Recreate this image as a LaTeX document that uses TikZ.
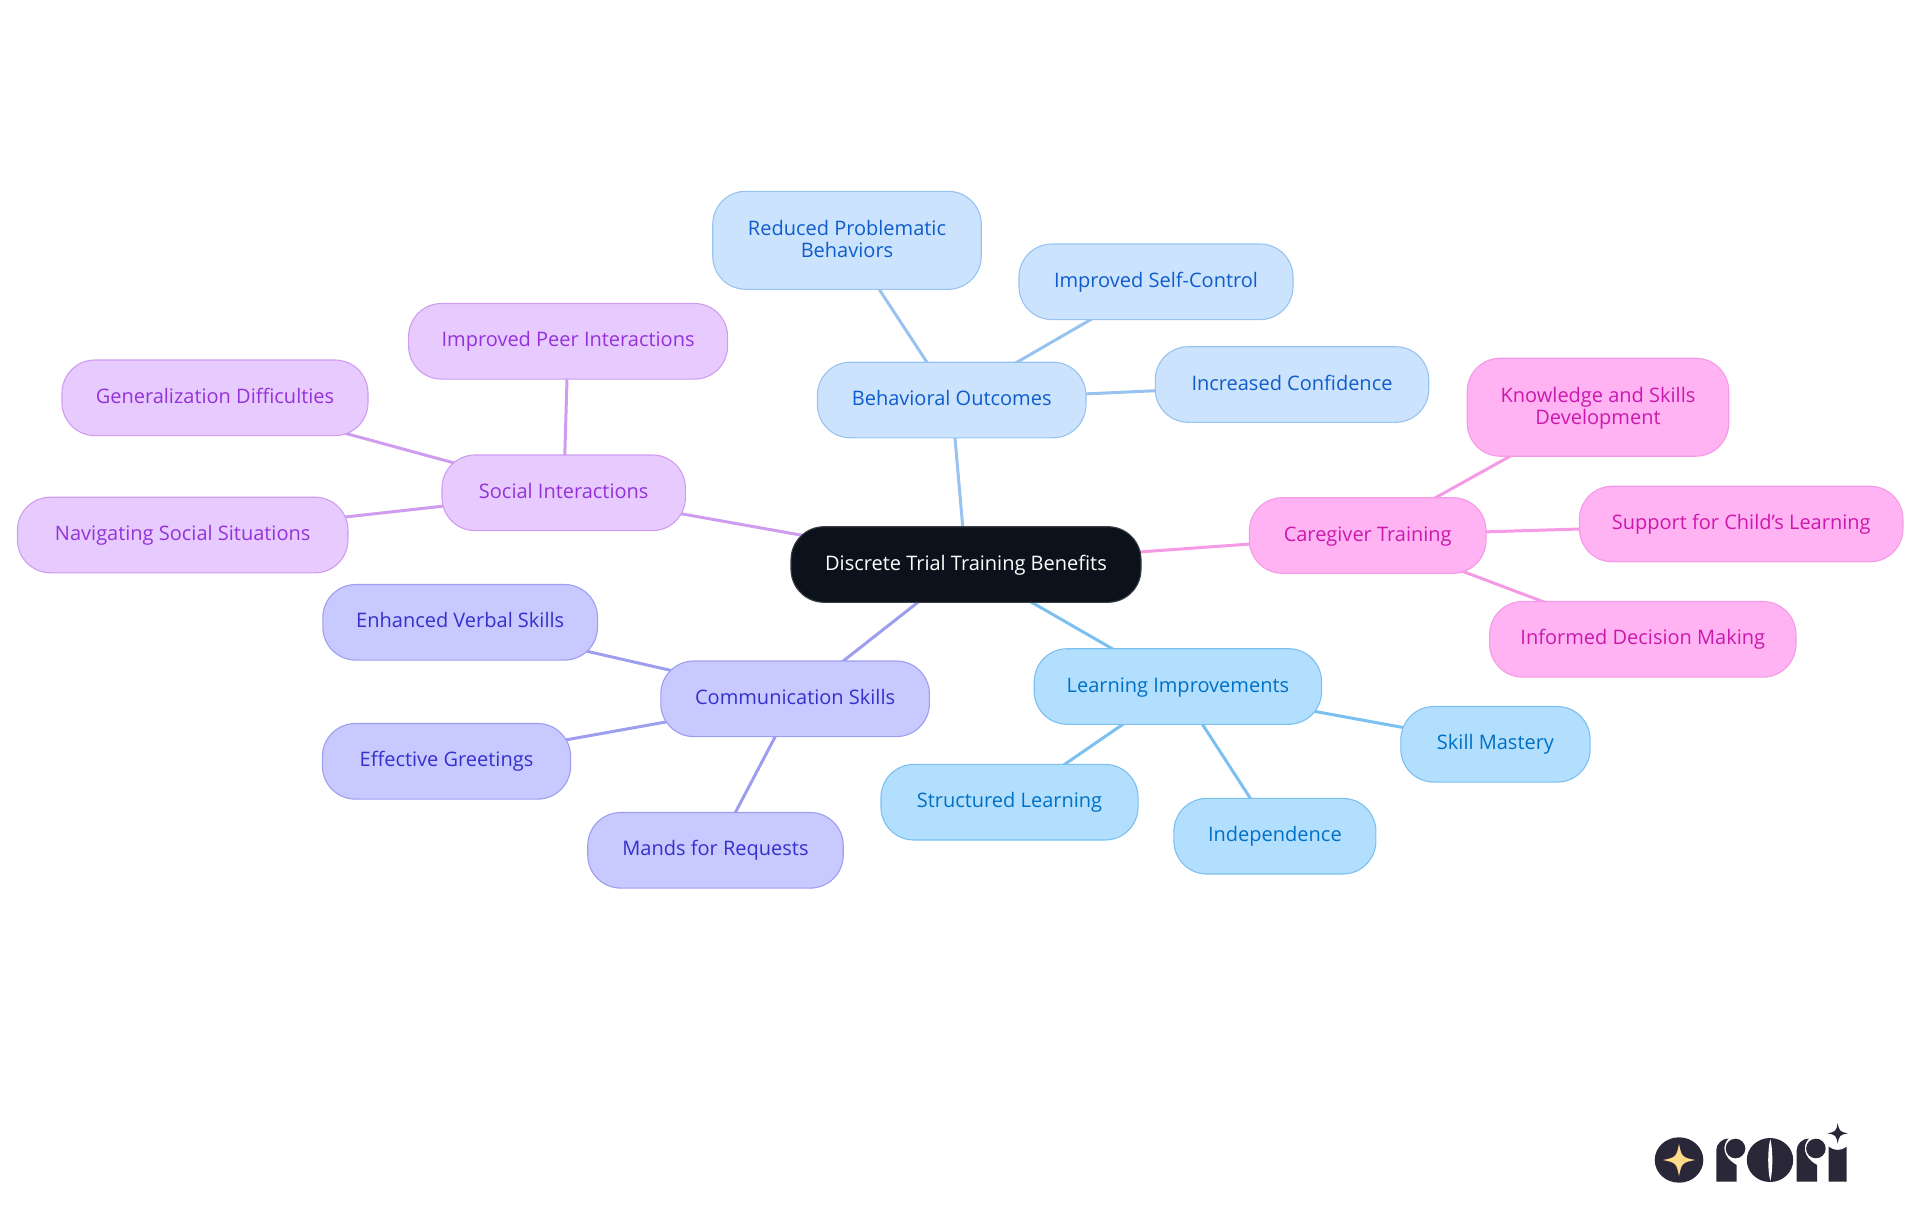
\documentclass[tikz,border=0pt]{standalone}
\usepackage{fontspec}
\setmainfont{Open Sans}
\usetikzlibrary{backgrounds}

\definecolor{rootfill}{HTML}{0C121B}
\definecolor{rootline}{HTML}{3A3E44}
\definecolor{behavfill}{HTML}{CCE3FD}
\definecolor{behavline}{HTML}{98C3F0}
\definecolor{behavtext}{HTML}{0F5CCB}
\definecolor{learnfill}{HTML}{B3DFFF}
\definecolor{learnline}{HTML}{7CC0F0}
\definecolor{learntext}{HTML}{0070C4}
\definecolor{carefill}{HTML}{FFB3F3}
\definecolor{careline}{HTML}{F59AE5}
\definecolor{caretext}{HTML}{CC18AD}
\definecolor{commfill}{HTML}{C8C9FE}
\definecolor{commline}{HTML}{9E9EF0}
\definecolor{commtext}{HTML}{3530CC}
\definecolor{socialfill}{HTML}{E8CBFE}
\definecolor{socialline}{HTML}{CF9CF0}
\definecolor{socialtext}{HTML}{9332DA}
\definecolor{logodark}{HTML}{292738}
\definecolor{logostar}{HTML}{FFD98C}

\tikzset{
	topic/.style={rectangle, rounded corners=33pt, inner sep=0pt, line width=1.1pt,
		minimum height=75.6pt, align=center, text height=16pt, text depth=5pt,
		font=\fontsize{20}{22.4}\selectfont},
	twolines/.style={minimum height=98pt, text height=39.5pt, text depth=5pt},
	rootbox/.style={topic, fill=rootfill, draw=rootline, text=white},
	behavbox/.style={topic, fill=behavfill, draw=behavline, text=behavtext},
	learnbox/.style={topic, fill=learnfill, draw=learnline, text=learntext},
	carebox/.style={topic, fill=carefill, draw=careline, text=caretext},
	commbox/.style={topic, fill=commfill, draw=commline, text=commtext},
	socialbox/.style={topic, fill=socialfill, draw=socialline, text=socialtext},
	link/.style={line width=3pt}
}

\newcommand{\sparkle}[4]{%
	\fill [#4] (#1-#3,#2) .. controls (#1-0.2*#3,#2-0.15*#3) and (#1-0.15*#3,#2-0.2*#3) .. (#1,#2-#3)
	.. controls (#1+0.15*#3,#2-0.2*#3) and (#1+0.2*#3,#2-0.15*#3) .. (#1+#3,#2)
	.. controls (#1+0.2*#3,#2+0.15*#3) and (#1+0.15*#3,#2+0.2*#3) .. (#1,#2+#3)
	.. controls (#1-0.15*#3,#2+0.2*#3) and (#1-0.2*#3,#2+0.15*#3) .. (#1-#3,#2) -- cycle;}

\begin{document}
\begin{tikzpicture}[x=1pt, y=-1pt]
	\useasboundingbox (0,0) rectangle (1920,1215);

	\node [rootbox, minimum width=350] (root) at (966,564.5) {Discrete Trial Training Benefits};

	\node [behavbox, minimum width=268.5] (behav) at (951.7,400) {Behavioral Outcomes};
	\node [behavbox, twolines, minimum width=268.5] (reduced) at (847,240.3) {Reduced Problematic\\Behaviors};
	\node [behavbox, minimum width=274] (selfctl) at (1156,281.8) {Improved Self-Control};
	\node [behavbox, minimum width=273.4] (confid) at (1292,384.5) {Increased Confidence};

	\node [carebox, minimum width=236.6] (care) at (1367.7,535.5) {Caregiver Training};
	\node [carebox, twolines, minimum width=261.5] (knowl) at (1598,407.2) {Knowledge and Skills\\Development};
	\node [carebox, minimum width=323.5] (support) at (1741.2,524) {Support for Child's Learning};
	\node [carebox, minimum width=306.3] (inform) at (1642.8,639.3) {Informed Decision Making};

	\node [learnbox, minimum width=287.4] (learn) at (1177.9,686.5) {Learning Improvements};
	\node [learnbox, minimum width=189.3] (mastery) at (1495.5,744.3) {Skill Mastery};
	\node [learnbox, minimum width=202] (indep) at (1274.9,836.2) {Independence};
	\node [learnbox, minimum width=257.1] (struct) at (1009.5,802.2) {Structured Learning};

	\node [commbox, minimum width=268.6] (comm) at (795.1,698.8) {Communication Skills};
	\node [commbox, minimum width=274.7] (verbal) at (460.2,622.3) {Enhanced Verbal Skills};
	\node [commbox, minimum width=248.2] (greet) at (446.5,761.3) {Effective Greetings};
	\node [commbox, minimum width=255.5] (mands) at (715.5,850.3) {Mands for Requests};

	\node [socialbox, minimum width=243.4] (social) at (563.7,492.8) {Social Interactions};
	\node [socialbox, minimum width=319] (peer) at (568.1,341.3) {Improved Peer Interactions};
	\node [socialbox, minimum width=306] (general) at (215,397.8) {Generalization Difficulties};
	\node [socialbox, minimum width=330.5] (navig) at (182.7,535) {Navigating Social Situations};

	\begin{scope}[on background layer]
		\path [-, link, draw=behavline]
		(root.center) edge (behav.center)
		(behav.center) edge (reduced.center)
		(behav.center) edge (selfctl.center)
		(behav.center) edge (confid.center);
		\path [-, link, draw=careline]
		(root.center) edge (care.center)
		(care.center) edge (knowl.center)
		(care.center) edge (support.center)
		(care.center) edge (inform.center);
		\path [-, link, draw=learnline]
		(root.center) edge (learn.center)
		(learn.center) edge (mastery.center)
		(learn.center) edge (indep.center)
		(learn.center) edge (struct.center);
		\path [-, link, draw=commline]
		(root.center) edge (comm.center)
		(comm.center) edge (verbal.center)
		(comm.center) edge (greet.center)
		(comm.center) edge (mands.center);
		\path [-, link, draw=socialline]
		(root.center) edge (social.center)
		(social.center) edge (peer.center)
		(social.center) edge (general.center)
		(social.center) edge (navig.center);
	\end{scope}

	% logo
	\fill [logodark] (1679,1160) circle [x radius=24.3pt, y radius=22.7pt];
	\sparkle{1679}{1160}{16.3}{logostar}
	\foreach \shiftr in {0,80.4} {
		\begin{scope}[xshift=\shiftr pt]
			\fill [logodark] (1716.3,1181.7) -- (1716.3,1150) .. controls (1716.3,1144) and (1722,1138.5) .. (1728.5,1138.5)
			.. controls (1722,1145) and (1722,1157) .. (1736.7,1165) -- (1736.7,1181.7) -- cycle;
			\fill [logodark] (1735.5,1148.5) circle [radius=9.8pt];
		\end{scope}
	}
	\fill [logodark] (1770,1160) circle [x radius=23.2pt, y radius=22pt];
	\fill [white] (1770.3,1139) .. controls (1767.5,1150) and (1767.5,1170) .. (1770.3,1181)
	.. controls (1773,1170) and (1773,1150) .. (1770.3,1139) -- cycle;
	\fill [logodark] (1828.7,1181.7) -- (1828.7,1146.7) .. controls (1832,1149) and (1835,1150) .. (1837.7,1150)
	.. controls (1840.4,1150) and (1843.4,1149) .. (1846.7,1146.7) -- (1846.7,1181.7) -- cycle;
	\sparkle{1837.7}{1133.3}{10.3}{logodark}
\end{tikzpicture}
\end{document}
